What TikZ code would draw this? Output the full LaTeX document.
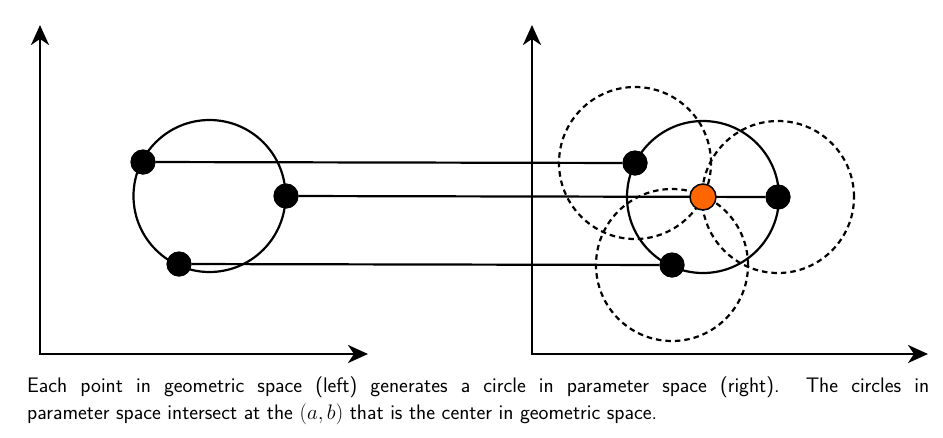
\RequirePackage{fix-cm}
\documentclass[tikz,border=0pt]{standalone}
\usepackage{fontspec}
\usetikzlibrary{arrows.meta}
\definecolor{hubfill}{RGB}{255,102,0}
\begin{document}
\begin{tikzpicture}[x=1pt,y=-1pt,
  axis/.style={line width=2.8pt,{Stealth[length=20pt,width=18pt,inset=6pt]}-{Stealth[length=20pt,width=18pt,inset=6pt]}},
  ring/.style={line width=2.2pt},
  dring/.style={line width=2.2pt,dash pattern=on 5.5pt off 4pt},
  link/.style={line width=2.2pt},
  dot/.style={circle,fill=black,minimum size=25pt,inner sep=0pt},
  hub/.style={circle,fill=hubfill,draw=black,line width=1.5pt,minimum size=26pt,inner sep=0pt},
  caption/.style={anchor=north west,inner sep=0pt,text width=902pt,align=justify,font=\sffamily\addfontfeatures{FakeStretch=0.935}\fontsize{21}{26.5}\selectfont}]
\useasboundingbox (0,0) rectangle (943,437);
% axes
\coordinate (ly) at (40,25);
\coordinate (lo) at (40,354);
\coordinate (lx) at (368,354);
\coordinate (ry) at (532,25);
\coordinate (ro) at (532,354);
\coordinate (rx) at (928,354);
\draw[axis] (ly) -- (lo) -- (lx);
\draw[axis] (ry) -- (ro) -- (rx);
% dots
\node[dot] (p1) at (143,162) {};
\node[dot] (p2) at (286,196) {};
\node[dot] (p3) at (179,264) {};
\node[dot] (q1) at (635,163) {};
\node[dot] (q2) at (778,197) {};
\node[dot] (q3) at (672,265) {};
\coordinate (c) at (703,197);
% circles
\draw[dring] (q1.center) circle[radius=76pt];
\draw[dring] (q2.center) circle[radius=76pt];
\draw[dring] (q3.center) circle[radius=76pt];
\draw[ring] (209.5,196) circle[radius=76pt];
\draw[ring] (c) circle[radius=76pt];
% redraw dots above circles
\node[dot] at (p1) {};
\node[dot] at (p2) {};
\node[dot] at (p3) {};
\node[dot] at (q1) {};
\node[dot] at (q2) {};
\node[dot] at (q3) {};
% links
\draw[link] (p1) -- (q1);
\draw[link] (p2) -- (q2);
\draw[link] (p3) -- (q3);
\node[hub] (h) at (c) {};
% caption
\node[caption] (cap) at (27,377) {Each point in geometric space (left) generates a circle in parameter space (right).\ \ The circles in\linebreak parameter space intersect at the $(a,b)$ that is the center in geometric space.};
\end{tikzpicture}
\end{document}
